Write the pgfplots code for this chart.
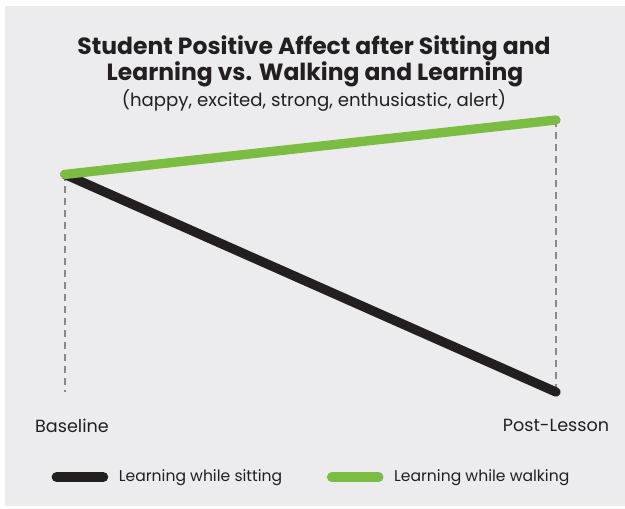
\documentclass[border=0pt]{standalone}
\usepackage{fontspec}
\setmainfont{Poppins}
\usepackage{pgfplots}
\pgfplotsset{compat=1.18}
\definecolor{bg}{HTML}{ECECEE}
\definecolor{ink}{HTML}{231F20}
\definecolor{grn}{HTML}{7BBD42}
\definecolor{dashgray}{HTML}{8A8A8C}
\begin{document}
\begin{tikzpicture}
\fill[white] (0pt,0pt) rectangle (468.75pt,381pt);
\fill[bg] (3.75pt,1.5pt) rectangle (468.75pt,376.5pt);
\node[anchor=base, text=ink, font=\bfseries\fontsize{17.6pt}{20pt}\selectfont] at (235.5pt,339.75pt) {Student Positive Affect after Sitting and};
\node[anchor=base, text=ink, font=\bfseries\fontsize{17.6pt}{20pt}\selectfont] at (236.25pt,320.5pt) {Learning vs. Walking and Learning};
\node[anchor=base, text=ink, font=\fontsize{13.6pt}{15pt}\selectfont] at (235.5pt,301pt) {(happy, excited, strong, enthusiastic, alert)};
\begin{axis}[
  at={(48.75pt,87pt)}, anchor=south west,
  scale only axis, width=368.25pt, height=204pt,
  xmin=0, xmax=1, ymin=-1, ymax=0.25,
  axis line style={draw=none}, ytick=\empty,
  xtick={0,1}, xticklabels={\hspace{10.5pt}Baseline,Post-Lesson},
  major tick length=0pt,
  xticklabel style={text=ink, font=\fontsize{13.2pt}{15pt}\selectfont, yshift=-17pt},
  clip=false,
  legend columns=2,
  legend style={at={(-0.036,-0.3125)}, anchor=west, draw=none, fill=none,
    font=\fontsize{11.7pt}{13pt}\selectfont, text=ink,
    /tikz/every odd column/.append style={column sep=6pt},
    /tikz/every even column/.append style={column sep=31.5pt}},
  legend image code/.code={\draw[#1, line width=7.5pt, line cap=round] (0pt,0pt) -- (35pt,0pt);},
]
\addplot[dashgray, line width=1pt, dash pattern=on 5pt off 4pt, forget plot] coordinates {(0,0) (0,-1)};
\addplot[dashgray, line width=1pt, dash pattern=on 5pt off 4pt, forget plot] coordinates {(1,0.25) (1,-1)};
\addplot[ink, line width=7pt, line cap=round] coordinates {(0,0) (1,-1)};
\addlegendentry{Learning while sitting}
\addplot[grn, line width=7pt, line cap=round] coordinates {(0,0) (1,0.25)};
\addlegendentry{Learning while walking}
\end{axis}
\end{tikzpicture}
\end{document}
